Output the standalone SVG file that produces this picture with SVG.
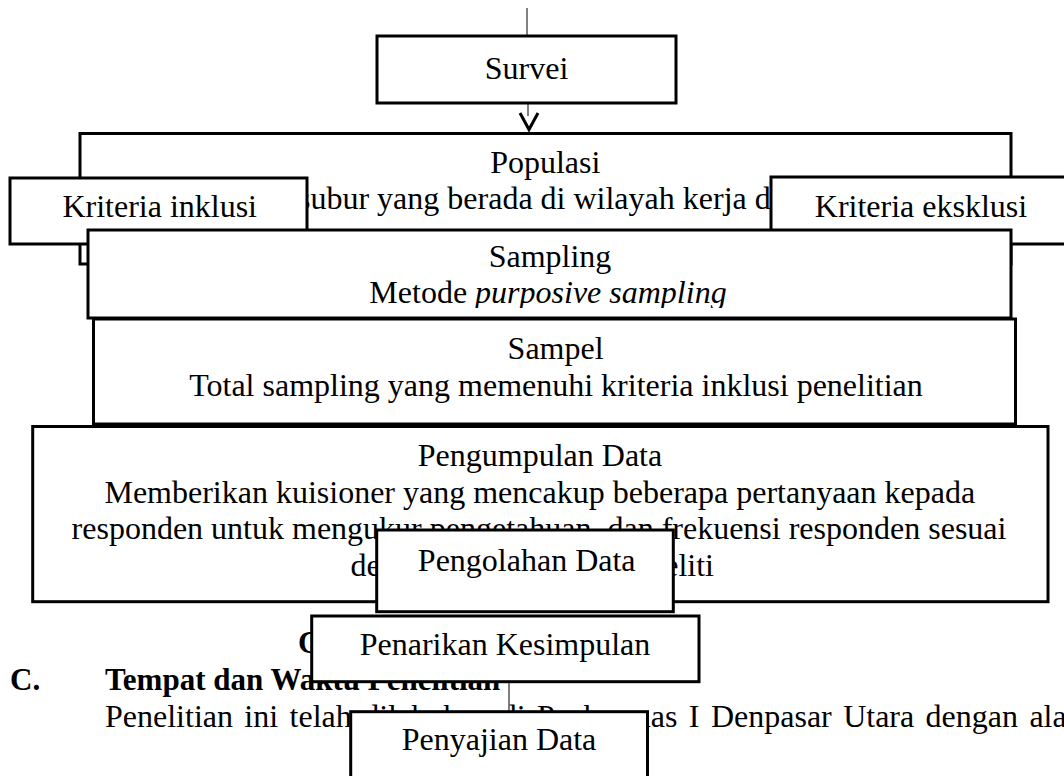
<svg xmlns="http://www.w3.org/2000/svg" width="1064" height="776" viewBox="0 0 1064 776">
<style>
.box{fill:#fff;stroke:#000;stroke-width:3}
.t{font-family:"Liberation Serif","Times New Roman",serif;font-size:32px;fill:#000}
.m{text-anchor:middle}
.b{font-weight:bold;font-size:31px}
.i{font-style:italic}
.thin{stroke:#000;stroke-width:1;fill:none}
.arr{stroke:#000;stroke-width:3;fill:none;stroke-linejoin:miter}
</style>
<defs>
<clipPath id="clipSampling"><rect x="88" y="230" width="923" height="78"/></clipPath>
</defs>
<rect width="1064" height="776" fill="#fff"/>

<g id="body-text">
<text class="t b" x="10" y="690">C.</text>
<text class="t b" x="105" y="690">Tempat dan Waktu Penelitian</text>
<text class="t b" x="298" y="653">C</text>
<text class="t" x="105" y="727" word-spacing="3.4">Penelitian ini telah dilakukan di Puskesmas I Denpasar Utara dengan alamat</text>
</g>

<g id="connectors">
<line class="thin" x1="527" y1="8" x2="527" y2="36"/>
<line class="thin" x1="528" y1="103" x2="528" y2="116"/>
<polyline class="arr" points="520,113 529,129.5 538,113"/>
<line class="thin" x1="509" y1="681" x2="509" y2="712"/>
</g>

<g id="survei">
<rect class="box" x="377" y="36" width="299" height="67"/>
<text class="t m" x="526.5" y="79">Survei</text>
</g>

<g id="populasi">
<rect class="box" x="80" y="133.5" width="931" height="130.5"/>
<text class="t m" x="545.3" y="173">Populasi</text>
<text class="t" x="298" y="209">subur yang berada di wilayah kerja d</text>
</g>

<g id="kriteria-inklusi">
<rect class="box" x="10" y="178" width="297" height="66"/>
<text class="t m" x="159.7" y="217">Kriteria inklusi</text>
</g>

<g id="kriteria-eksklusi">
<rect class="box" x="771" y="177" width="301" height="67"/>
<text class="t m" x="921" y="217">Kriteria eksklusi</text>
</g>

<g id="sampling">
<rect class="box" x="88" y="230" width="923" height="88"/>
<g clip-path="url(#clipSampling)">
<text class="t m" x="550" y="267">Sampling</text>
<text class="t m" x="548" y="303">Metode <tspan class="i">purposive sampling</tspan></text>
</g>
</g>

<g id="sampel">
<rect class="box" x="93.5" y="319" width="922" height="105"/>
<text class="t m" x="555.6" y="359">Sampel</text>
<text class="t m" x="556" y="396">Total sampling yang memenuhi kriteria inklusi penelitian</text>
</g>

<g id="pengumpulan-data">
<rect class="box" x="32.7" y="426.5" width="1015.3" height="175.2"/>
<text class="t m" x="540" y="466">Pengumpulan Data</text>
<text class="t m" x="539.8" y="503">Memberikan kuisioner yang mencakup beberapa pertanyaan kepada</text>
<text class="t m" x="539" y="539">responden untuk mengukur pengetahuan, dan frekuensi responden sesuai</text>
<text class="t" x="350.6" y="576">de</text>
<text class="t" x="714" y="576" text-anchor="end">eliti</text>
</g>

<g id="pengolahan-data">
<rect class="box" x="376.7" y="530" width="296.6" height="81.7"/>
<text class="t m" x="526.7" y="571">Pengolahan Data</text>
</g>

<g id="penarikan-kesimpulan">
<rect class="box" x="311.7" y="616" width="387.3" height="65.7"/>
<text class="t m" x="505" y="655">Penarikan Kesimpulan</text>
</g>

<g id="penyajian-data">
<rect class="box" x="350.7" y="711.7" width="296.8" height="80"/>
<text class="t m" x="499" y="750">Penyajian Data</text>
</g>
</svg>
